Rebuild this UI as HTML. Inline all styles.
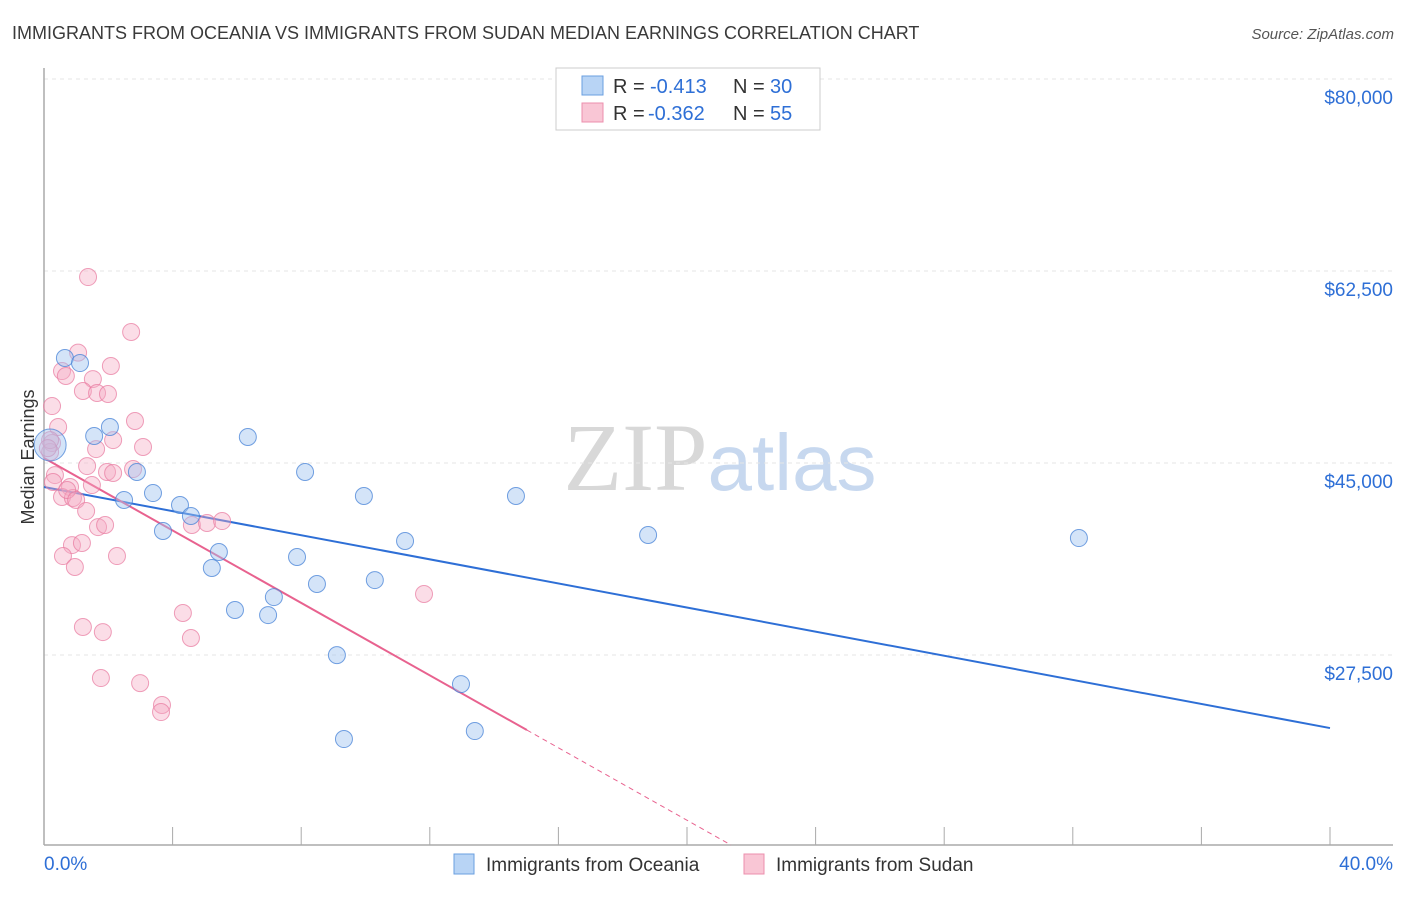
<!DOCTYPE html>
<html><head><meta charset="utf-8"><style>
body{margin:0;background:#fff;font-family:"Liberation Sans",sans-serif;}
svg text{font-family:"Liberation Sans",sans-serif;}
</style></head><body>
<svg id="chart" width="1406" height="892" xmlns="http://www.w3.org/2000/svg">
<text x="12" y="39" font-size="18" fill="#3a3a3a">IMMIGRANTS FROM OCEANIA VS IMMIGRANTS FROM SUDAN MEDIAN EARNINGS CORRELATION CHART</text>
<text x="1394" y="39" font-size="15" fill="#555" text-anchor="end" font-style="italic">Source: ZipAtlas.com</text>
<text transform="translate(34,457) rotate(-90)" font-size="18" fill="#333" text-anchor="middle">Median Earnings</text>
<text x="720" y="490" font-size="96" text-anchor="middle"><tspan fill="#d8d8d8" font-family="Liberation Serif">ZIP</tspan><tspan fill="#c7d8ef" font-size="80">atlas</tspan></text>
<g id="grid"></g><g id="axes"></g><g id="lines"></g><g id="pts"></g>
<g>
<rect x="556" y="68" width="264" height="62" fill="#fff" stroke="#ccc"/>
<rect x="582" y="76" width="21" height="19" fill="#b8d4f5" stroke="#6a9fe0"/>
<text x="613" y="93" font-size="20" fill="#333">R =</text>
<text x="650" y="93" font-size="20" fill="#2e6fd6">-0.413</text>
<text x="733" y="93" font-size="20" fill="#333">N =</text>
<text x="770" y="93" font-size="20" fill="#2e6fd6">30</text>
<rect x="582" y="103" width="21" height="19" fill="#f9c6d5" stroke="#ec8fad"/>
<text x="613" y="120" font-size="20" fill="#333">R =</text>
<text x="648" y="120" font-size="20" fill="#2e6fd6">-0.362</text>
<text x="733" y="120" font-size="20" fill="#333">N =</text>
<text x="770" y="120" font-size="20" fill="#2e6fd6">55</text>
</g>
<g>
<rect x="454" y="854" width="20" height="20" fill="#b8d4f5" stroke="#6a9fe0"/>
<text x="486" y="871" font-size="19" fill="#333">Immigrants from Oceania</text>
<rect x="744" y="854" width="20" height="20" fill="#f9c6d5" stroke="#ec8fad"/>
<text x="776" y="871" font-size="19" fill="#333">Immigrants from Sudan</text>
</g>
</svg>
<script>
const yTicks=[27500,45000,62500,80000];
const yTickLabels=["$27,500","$45,000","$62,500","$80,000"];
const xTickLabels=["0.0%","40.0%"];
const oceaniaX=[0.65,1.12,2.05,1.56,2.89,2.49,3.39,4.23,4.57,3.70,6.34,8.12,9.95,14.68,18.79,32.19,11.23,5.44,7.87,5.22,8.49,10.29,7.15,5.94,6.97,9.11,12.97,13.40,9.33,0.19];
const oceaniaY=[54570,54110,48280,47460,44180,41630,42260,41170,40170,38800,47370,44180,41990,41990,38440,38160,37890,36890,36430,35430,33970,34330,32780,31600,31140,27490,24850,20570,19840,46640];
const sudanX=[1.37,2.71,1.06,0.56,0.68,2.08,1.52,1.21,1.65,1.99,0.25,0.44,2.83,2.15,1.62,3.08,0.25,0.19,1.34,1.96,2.15,2.77,0.34,0.28,0.81,1.49,0.56,0.90,0.72,1.00,1.31,1.68,1.90,4.60,5.07,5.54,0.87,1.18,0.59,0.96,2.27,4.32,4.57,1.21,1.83,1.77,2.99,3.67,3.64,11.82,0.19,0.12];
const sudanY=[61950,56940,55060,53380,52930,53840,52650,51560,51380,51290,50190,48280,48830,47090,46270,46460,46820,46000,44720,44180,44090,44450,43900,43270,42810,42990,41900,41810,42540,41630,40620,39160,39350,39350,39530,39710,37520,37710,36520,35520,36520,31330,29050,30050,29590,25400,24940,22940,22300,33060,47090,46360];
const oceaniaFit=[42810,20840];
const sudanFit=[45455,20660,15.02];
const NS="http://www.w3.org/2000/svg";
const X0=44,X1=1330,Y80=79,PXV=192/17500;
const sx=v=>X0+(v/40)*(X1-X0);
const sy=v=>Y80+(80000-v)*PXV;
function mk(tag,attrs,parent){const e=document.createElementNS(NS,tag);for(const k in attrs)e.setAttribute(k,attrs[k]);document.getElementById(parent).appendChild(e);return e;}
yTicks.forEach((t,i)=>{
 const g=mk('line',{x1:44,x2:1393,y1:sy(t),y2:sy(t),stroke:'#e6e6e6','stroke-dasharray':'4,4'},'grid');
 
 
 const tx=mk('text',{x:1393,y:sy(t)+25,'font-size':19,fill:'#2e6fd6','text-anchor':'end'},'axes');
 tx.textContent=yTickLabels[i];
 
 
});
const ya=mk('line',{x1:44,x2:44,y1:68,y2:845,stroke:'#aaa','stroke-width':1.5},'axes');


const xa=mk('line',{x1:44,x2:1393,y1:845,y2:845,stroke:'#aaa','stroke-width':1.5},'axes');


for(let p=0;p<=40;p+=4){const t=mk('line',{x1:sx(p),x2:sx(p),y1:827,y2:845,stroke:'#aaa'},'axes');
 
 }
[[0,'start'],[40,'end']].forEach((a,i)=>{const t=mk('text',{x:i?1393:44,y:870,'font-size':19,fill:'#2e6fd6','text-anchor':a[1]},'axes');t.textContent=xTickLabels[i];
 
 });
const bl=mk('line',{x1:sx(0),y1:sy(oceaniaFit[0]),x2:sx(40),y2:sy(oceaniaFit[1]),stroke:'#2e6fd6','stroke-width':2},'lines');


const pl=mk('line',{x1:sx(0),y1:sy(sudanFit[0]),x2:sx(sudanFit[2]),y2:sy(sudanFit[1]),stroke:'#e8628f','stroke-width':2},'lines');


const slope=(sudanFit[1]-sudanFit[0])/sudanFit[2];
const xe=(10182-sudanFit[0])/slope;
const pd=mk('line',{x1:sx(sudanFit[2]),y1:sy(sudanFit[1]),x2:sx(xe),y2:sy(sudanFit[0]+slope*xe),stroke:'#e8628f','stroke-width':1,'stroke-dasharray':'5,4'},'lines');


sudanX.forEach((x,i)=>{const c=mk('circle',{cx:sx(x),cy:sy(sudanY[i]),r:8.5,fill:'rgba(246,170,195,0.4)',stroke:'rgba(232,120,158,0.7)','stroke-width':1},'pts');
 
 });
oceaniaX.forEach((x,i)=>{const c=mk('circle',{cx:sx(x),cy:sy(oceaniaY[i]),r:i==oceaniaX.length-1?16:8.5,fill:'rgba(160,195,240,0.45)',stroke:'rgba(70,130,215,0.75)','stroke-width':1},'pts');
 
 });
</script>
</body></html>
